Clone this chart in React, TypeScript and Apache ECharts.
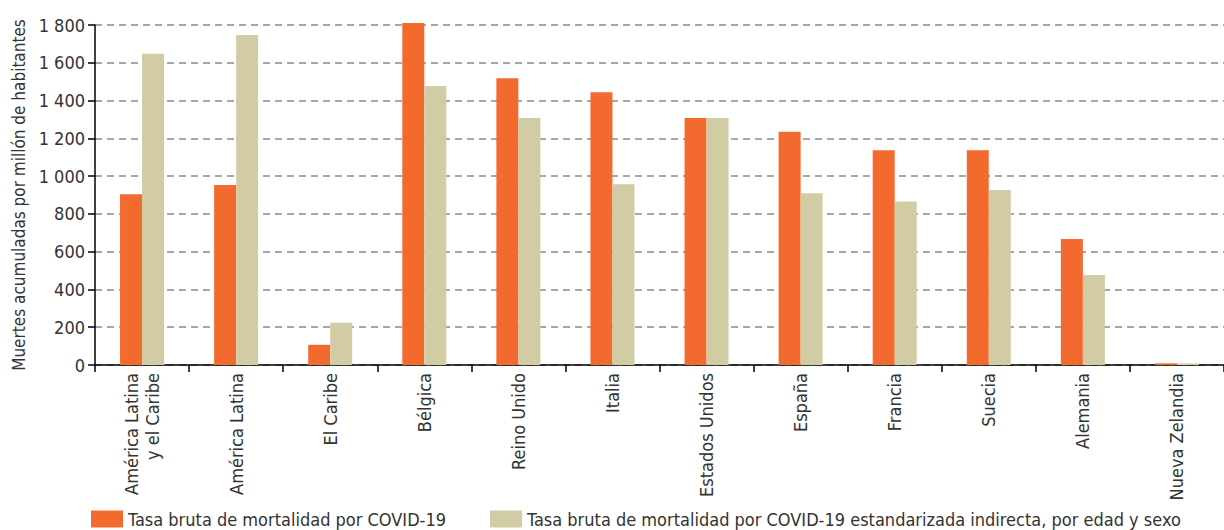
import React, { useEffect, useRef } from "react";
import * as echarts from "echarts";

const categories = [
  "América Latina\ny el Caribe",
  "América Latina",
  "El Caribe",
  "Bélgica",
  "Reino Unido",
  "Italia",
  "Estados Unidos",
  "España",
  "Francia",
  "Suecia",
  "Alemania",
  "Nueva Zelandia",
];
const crudeRate = [904, 953, 107, 1810, 1518, 1444, 1308, 1235, 1137, 1137, 667, 9];
const standardizedRate = [1648, 1747, 224, 1477, 1308, 957, 1308, 909, 866, 926, 476, 8];
const seriesNames = [
  "Tasa bruta de mortalidad por COVID-19",
  "Tasa bruta de mortalidad por COVID-19 estandarizada indirecta, por edad y sexo",
];
const yAxisName = "Muertes acumuladas por millón de habitantes";

const FONT = "'DejaVu Sans Condensed', 'Liberation Sans Narrow', sans-serif";
const TEXT = "#333333";
const FS = 18;

export default function App() {
  const ref = useRef<HTMLDivElement>(null);
  useEffect(() => {
    if (!ref.current) return;
    const chart = echarts.init(ref.current, undefined, { renderer: "svg" });
    const legendText = { fontSize: FS, color: TEXT, fontFamily: FONT };
    chart.setOption({
      animation: false,
      textStyle: { fontFamily: FONT },
      grid: { left: 95, right: 0, top: 25, bottom: 165, containLabel: false },
      legend: [
        {
          data: [seriesNames[0]],
          left: 91,
          top: 510,
          itemWidth: 32,
          itemHeight: 17,
          itemGap: 6,
          padding: 0,
          icon: "rect",
          textStyle: legendText,
        },
        {
          data: [seriesNames[1]],
          left: 490,
          top: 510,
          itemWidth: 32,
          itemHeight: 17,
          padding: 0,
          icon: "rect",
          textStyle: legendText,
        },
      ],
      xAxis: {
        type: "category",
        data: categories,
        axisLine: { lineStyle: { color: "#000", width: 1.5 } },
        axisTick: { show: true, length: 7, lineStyle: { color: "#000", width: 1.5 } },
        axisLabel: {
          rotate: 90,
          interval: 0,
          fontSize: FS,
          color: TEXT,
          fontFamily: FONT,
          margin: 8,
          lineHeight: 21,
          align: "right",
        },
      },
      yAxis: {
        type: "value",
        min: 0,
        max: 1800,
        interval: 200,
        name: yAxisName,
        nameLocation: "middle",
        nameGap: 68,
        nameTextStyle: { fontSize: 17, color: TEXT, fontFamily: FONT },
        axisLine: { show: true, lineStyle: { color: "#000", width: 1.5 } },
        axisTick: { show: true, length: 7, lineStyle: { color: "#000", width: 1.5 } },
        axisLabel: {
          fontSize: FS,
          color: TEXT,
          fontFamily: FONT,
          margin: 10,
          formatter: (v: number) => String(v).replace(/\B(?=(\d{3})+(?!\d))/g, " "),
        },
        splitLine: { lineStyle: { color: "#8a8a8a", type: [7, 5], width: 1.5 } },
      },
      series: [
        {
          name: seriesNames[0],
          type: "bar",
          data: crudeRate,
          barWidth: 22,
          barGap: "0%",
          clip: false,
          itemStyle: { color: "#F26A2E" },
        },
        {
          name: seriesNames[1],
          type: "bar",
          data: standardizedRate,
          barWidth: 22,
          barGap: "0%",
          clip: false,
          itemStyle: { color: "#D2CCA5" },
        },
      ],
    });
    return () => chart.dispose();
  }, []);
  return (
    <div
      ref={ref}
      style={{ position: "fixed", left: 0, top: 0, width: 1224, height: 530, background: "#fff" }}
    />
  );
}
